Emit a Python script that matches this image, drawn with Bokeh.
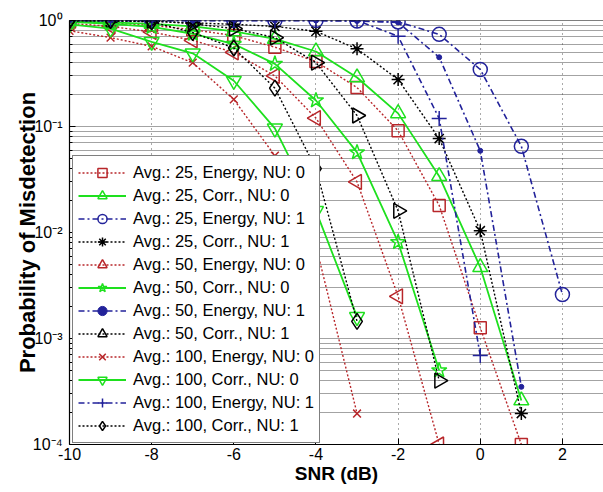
import numpy as np
from bokeh.plotting import figure
from bokeh.models import FixedTicker, CustomJSTickFormatter, Legend, LegendItem, Range1d, Span
from bokeh.embed import file_html
from bokeh.resources import INLINE

snr = [-10, -9, -8, -7, -6, -5, -4, -3, -2, -1, 0, 1, 2]

avg25_energy_nu0 = [0.97, 0.95, 0.90, 0.82, 0.72, 0.56, 0.41, 0.233, 0.091, 0.018, 1.26e-3, 1.0e-4]
avg25_corr_nu0 = [0.98, 0.96, 0.93, 0.88, 0.79, 0.67, 0.51, 0.29, 0.133, 0.034, 4.7e-3, 2.6e-4]
avg25_energy_nu1 = [1.0, 1.0, 1.0, 1.0, 1.0, 1.0, 1.0, 0.99, 0.97, 0.74, 0.345, 0.065, 2.6e-3]
avg25_corr_nu1 = [1.0, 0.99, 0.98, 0.95, 0.92, 0.88, 0.79, 0.54, 0.277, 0.077, 0.0104, 1.96e-4]
avg50_energy_nu0 = [0.94, 0.88, 0.78, 0.65, 0.50, 0.30, 0.12, 0.030, 2.5e-3, 1.0e-4]
avg50_corr_nu0 = [0.97, 0.93, 0.87, 0.75, 0.60, 0.39, 0.176, 0.057, 8.1e-3, 5.0e-4]
avg50_energy_nu1 = [1.0, 1.0, 1.0, 1.0, 1.0, 1.0, 1.0, 0.99, 0.96, 0.45, 0.059, 3.5e-4]
avg50_corr_nu1 = [1.0, 1.0, 1.0, 0.93, 0.84, 0.69, 0.40, 0.127, 0.016, 4.0e-4]
avg100_energy_nu0 = [0.80, 0.69, 0.57, 0.40, 0.18, 0.053, 7.5e-3, 1.96e-4]
avg100_corr_nu0 = [0.92, 0.84, 0.63, 0.49, 0.27, 0.096, 0.016, 1.6e-3]
avg100_energy_nu1 = [1.0, 1.0, 1.0, 1.0, 1.0, 1.0, 1.0, 1.0, 0.71, 0.119, 6.9e-4]
avg100_corr_nu1 = [1.0, 1.0, 0.97, 0.77, 0.55, 0.23, 0.040, 1.45e-3]

x_ticks = [-10, -8, -6, -4, -2, 0, 2]
y_ticks = [1e-4, 1e-3, 1e-2, 1e-1, 1.0]

RED = "#b8262a"
GREEN = "#1ee01e"
BLUE = "#22229a"
BLACK = "#000000"
DOT = "2 2"
DASHDOT = "6 3 2 3"
FONT = "Liberation Sans"

series = [
    ("Avg.: 25, Energy, NU: 0", avg25_energy_nu0, RED, DOT, "square", 12, 0.0, 1.4),
    ("Avg.: 25, Corr., NU: 0", avg25_corr_nu0, GREEN, "solid", "triangle", 15, 0.0, 1.8),
    ("Avg.: 25, Energy, NU: 1", avg25_energy_nu1, BLUE, DASHDOT, "circle", 14, 0.0, 1.6),
    ("Avg.: 25, Corr., NU: 1", avg25_corr_nu1, BLACK, DOT, "asterisk", 13, 0.0, 1.4),
    ("Avg.: 50, Energy, NU: 0", avg50_energy_nu0, RED, DOT, "triangle", 15, np.pi / 2, 1.4),
    ("Avg.: 50, Corr., NU: 0", avg50_corr_nu0, GREEN, "solid", "star", 16, 0.0, 1.8),
    ("Avg.: 50, Energy, NU: 1", avg50_energy_nu1, BLUE, DASHDOT, "dot", 14, 0.0, 1.6),
    ("Avg.: 50, Corr., NU: 1", avg50_corr_nu1, BLACK, DOT, "triangle", 15, -np.pi / 2, 1.4),
    ("Avg.: 100, Energy, NU: 0", avg100_energy_nu0, RED, DOT, "x", 11, 0.0, 1.4),
    ("Avg.: 100, Corr., NU: 0", avg100_corr_nu0, GREEN, "solid", "inverted_triangle", 15, 0.0, 1.8),
    ("Avg.: 100, Energy, NU: 1", avg100_energy_nu1, BLUE, DASHDOT, "cross", 15, 0.0, 1.6),
    ("Avg.: 100, Corr., NU: 1", avg100_corr_nu1, BLACK, DOT, "diamond", 16, 0.0, 1.4),
]

p = figure(width=603, height=492, y_axis_type="log",
           x_range=Range1d(-10, 3), y_range=Range1d(1e-4, 1.0),
           output_backend="svg", toolbar_location=None,
           min_border_left=69, min_border_right=0, min_border_top=20, min_border_bottom=48)

p.outline_line_color = None
p.background_fill_color = "white"
p.border_fill_color = "white"

# grids
p.xgrid.ticker = FixedTicker(ticks=x_ticks)
p.xgrid.grid_line_color = "#555555"
p.xgrid.grid_line_dash = "1 4"
p.xgrid.grid_line_width = 1
minor_y = [m * 10.0 ** k for k in range(-4, 0) for m in range(2, 10)]
p.ygrid.ticker = FixedTicker(ticks=y_ticks, minor_ticks=minor_y)
p.ygrid.grid_line_color = "#333333"
p.ygrid.grid_line_dash = "1 1"
p.ygrid.grid_line_alpha = 0.9
p.ygrid.minor_grid_line_color = "#333333"
p.ygrid.minor_grid_line_dash = "1 1"
p.ygrid.minor_grid_line_alpha = 0.9

# axes
xa = p.xaxis[0]
xa.ticker = FixedTicker(ticks=x_ticks)
xa.axis_label = "SNR (dB)"
xa.formatter = CustomJSTickFormatter(code="return String(Math.round(tick));")
ya = p.yaxis[0]
ya.ticker = FixedTicker(ticks=y_ticks, minor_ticks=minor_y)
ya.axis_label = "Probability of Misdetection"
ya.formatter = CustomJSTickFormatter(code="""
const e = Math.round(Math.log10(tick));
const sup = {'0':'\u2070','1':'\u00b9','2':'\u00b2','3':'\u00b3','4':'\u2074','-':'\u207b'};
return '10' + String(e).split('').map(c => sup[c]).join('');
""")
for ax in (xa, ya):
    ax.axis_line_color = "black"
    ax.axis_line_width = 1.2
    ax.major_tick_in = 6
    ax.major_tick_out = 0
    ax.minor_tick_in = 3
    ax.minor_tick_out = 0
    ax.major_tick_line_color = "black"
    ax.minor_tick_line_color = "black"
    ax.major_label_text_font = FONT
    ax.major_label_text_font_size = "16px"
    ax.major_label_text_color = "black"
    ax.axis_label_text_font = FONT
    ax.axis_label_text_font_style = "bold"
    ax.axis_label_text_color = "black"
xa.axis_label_text_font_size = "19px"
ya.axis_label_text_font_size = "22px"
xa.major_label_standoff = 3
xa.axis_label_standoff = 0
ya.major_label_standoff = 7
ya.axis_label_standoff = -10

top_border = Span(location=1.0, dimension="width", line_color="black", line_width=1.2)
p.add_layout(top_border)

items = []
for label, vals, color, dash, marker, size, angle, lw in series:
    xs = snr[:len(vals)]
    r_line = p.line(xs, vals, line_color=color, line_dash=dash, line_width=lw)
    if marker == "dot":
        r_mark = p.scatter(xs, vals, marker="circle", size=5, line_color=color, fill_color=color)
    else:
        r_mark = p.scatter(xs, vals, marker=marker, size=size, angle=angle,
                           line_color=color, fill_color=None, line_width=1.5)
    items.append(LegendItem(label=label, renderers=[r_line, r_mark]))

legend = Legend(items=items, location=(3, 1))
legend.label_text_font = FONT
legend.label_text_font_size = "16.5px"
legend.label_text_color = "black"
legend.glyph_width = 48
legend.glyph_height = 23
legend.label_height = 20
legend.label_standoff = 7
legend.spacing = 0
legend.padding = 5
legend.margin = 0
legend.border_line_color = "black"
legend.border_line_width = 1.2
legend.background_fill_color = "white"
legend.background_fill_alpha = 1.0
p.add_layout(legend, "center")

open("out.html", "w").write(file_html(p, INLINE))
